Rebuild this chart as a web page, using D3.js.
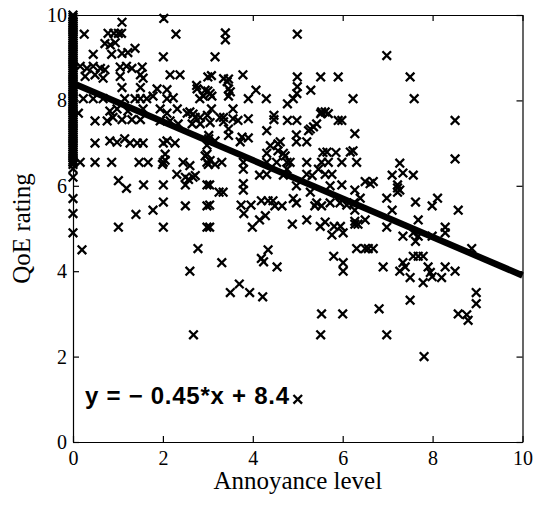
<!DOCTYPE html>
<html>
<head>
<meta charset="utf-8">
<script src="https://cdn.jsdelivr.net/npm/d3@7"></script>
<style>
  body { margin: 0; background: #fff; }
  .axis text { font-family: "Liberation Serif", "Times New Roman", serif; font-size: 20px; fill: #000; }
  .axis path, .axis line { stroke: #000; stroke-width: 1.2; }
</style>
</head>
<body>
<div id="chart"></div>
<script>
// Data ////////////////////////////////////////////////////////////////////
// Ratings given at annoyance level 0 (the dense column on the left axis)
const zeroLevelQoE = [
  10, 9.95, 9.9, 9.85, 9.8, 9.75, 9.7, 9.65, 9.6, 9.55, 9.5, 9.45, 9.4,
  9.35, 9.3, 9.25, 9.2, 9.15, 9.1, 9.05, 9.0, 8.95, 8.9, 8.85, 8.8, 8.75,
  8.7, 8.65, 8.6, 8.55, 8.5, 8.45, 8.4, 8.35, 8.3, 8.25, 8.2, 8.15, 8.1,
  8.05, 8.0, 7.95, 7.9, 7.85, 7.8, 7.75, 7.7, 7.65, 7.6, 7.55, 7.5, 7.45,
  7.4, 7.35, 7.3, 7.25, 7.2, 7.15, 7.1, 7.05, 7.0, 6.95, 6.9, 6.85, 6.8,
  6.75, 6.7, 6.65, 6.6, 6.55, 6.5, 6.4, 6.2, 5.7, 5.35, 4.9
];

// All other points: annoyance level and QoE rating, same order
const annoyance = [
  0.12, 0.2, 0.25, 0.16, 0.23, 0.16,
  1.09, 2.02, 0.78, 0.91, 1.01, 1.08, 2.29, 0.71, 0.83, 0.94, 1.38, 0.45, 0.86, 1.09, 1.22, 2.01, 3.16,
  0.31, 0.45, 0.61, 0.71, 1.05, 1.19, 1.31, 1.54, 0.27, 0.49, 0.67, 1.05, 1.5, 1.56, 2.16, 2.38, 3.0,
  1.09, 1.5, 1.87, 2.09, 2.76, 3.0, 0.45, 0.67, 1.15, 1.38, 1.5, 1.64, 1.78, 2.09, 2.23, 2.82, 3.09,
  0.82, 0.98, 1.22, 1.56, 1.94, 2.09, 2.32, 2.54, 2.67, 2.99,
  0.49, 0.76, 0.89, 1.09, 1.31, 1.5, 1.94, 2.16, 2.34, 2.65, 2.83, 3.05,
  0.49, 0.82, 0.98, 1.15, 1.27, 1.43, 1.56, 2.01, 2.09, 2.27, 2.98, 3.16, 2.05, 2.98,
  0.49, 0.86, 1.47, 1.67, 2.01, 2.05, 1.99, 2.45, 2.98, 3.01, 3.16,
  1.01, 1.19, 1.57, 2.01, 2.31, 2.5, 2.57, 2.67, 2.5, 2.98, 2.01, 1.78, 1.4, 2.5, 2.98,
  1.01, 2.01, 2.98, 2.78, 2.6, 3.31, 3.25,
  3.31, 3.79, 4.31, 4.53, 4.76, 5.2, 5.53, 5.68, 5.98, 6.31,
  4.31, 4.68, 5.56, 5.85, 3.79, 4.15, 4.31, 4.68, 5.2, 5.76,
  3.04, 3.34, 3.79, 3.79, 4.97, 5.28, 5.72, 5.98, 6.27,
  4.9, 4.97, 5.42, 5.72, 5.94, 6.09, 6.25,
  3.04, 3.74, 3.96, 3.8, 4.19, 4.34, 4.45, 4.15, 4.28, 3.04, 3.99,
  4.88, 5.2, 5.5, 5.61, 5.81, 5.95, 6.34, 5.76, 6.01,
  4.34, 4.19, 4.24, 4.54, 6.31, 5.8, 6.01, 6.01, 3.5, 3.7, 3.93, 4.22,
  6.17, 7.27, 8.5, 7.1, 7.34, 7.57, 6.5, 6.61, 6.68,
  7.22, 7.22, 7.22, 7.27, 6.98, 6.39, 7.62, 7.99, 8.11, 8.57, 7.1,
  6.27, 6.27, 6.27, 6.5, 6.98, 7.68, 8.28, 8.28,
  7.34, 7.57, 7.62, 7.68, 7.99, 6.5, 6.57, 6.68, 8.87,
  7.57, 7.68, 7.79, 6.9, 7.34, 7.39, 7.27, 7.9, 7.95, 8.28, 8.5,
  7.5, 7.79, 7.99, 8.2, 8.97, 8.97, 7.5, 6.81,
  6.98, 7.81, 8.57, 8.76, 8.79, 5.53, 6.0, 5.51, 5.0, 2.68,
  6.98, 7.5, 6.23, 7.59, 8.5, 6.27, 6.23,
  3.39, 3.39, 4.99, 3.08, 3.46, 3.78, 4.99, 5.51, 5.9,
  3.46, 3.05, 2.9, 3.46, 4.07, 3.9, 4.3, 4.99, 4.98, 4.9, 4.77, 5.29,
  3.08, 3.27, 3.35, 3.56, 3.56, 3.9, 2.83, 4.47, 4.47, 4.77, 4.98,
  5.51, 5.68, 5.9, 5.98, 3.46, 3.46, 3.72, 3.76, 3.9, 4.31, 4.39, 4.56, 4.61,
  4.97, 4.97, 5.2, 5.35, 5.24, 3.02,
  5.42, 5.53, 5.61, 5.28, 2.6, 2.72, 4.49, 4.65, 5.38, 5.53,
  2.94, 3.05, 3.02, 4.56, 4.72, 4.83, 4.76, 5.46, 5.61, 5.32, 5.65,
  2.6, 2.72, 3.35, 3.67, 2.75, 2.94, 3.35, 3.43, 3.5
];
const qoe = [
  7.7, 4.5, 9.55, 8.8, 8.04, 6.55,
  9.83, 9.92, 9.57, 9.57, 9.57, 9.57, 9.55, 9.33, 9.3, 9.35, 9.22, 9.08, 9.08, 9.1, 9.12, 9.02, 9.02,
  8.75, 8.8, 8.75, 8.72, 8.78, 8.8, 8.75, 8.78, 8.56, 8.6, 8.52, 8.56, 8.6, 8.52, 8.6, 8.6, 8.55,
  8.3, 8.3, 8.27, 8.25, 8.27, 8.22, 8.04, 8.04, 8.04, 8.04, 8.04, 8.04, 8.1, 8.04, 8.06, 8.04, 8.1,
  7.75, 7.8, 7.75, 7.8, 7.8, 7.7, 7.8, 7.7, 7.68, 7.65,
  7.52, 7.52, 7.6, 7.55, 7.55, 7.55, 7.52, 7.52, 7.45, 7.45, 7.45, 7.48,
  7.0, 7.05, 7.02, 7.1, 7.0, 7.0, 7.0, 7.0, 7.05, 7.0, 6.95, 7.05, 6.74, 6.74,
  6.55, 6.55, 6.55, 6.55, 6.55, 6.6, 6.5, 6.55, 6.55, 6.5, 6.5,
  6.12, 5.94, 6.02, 6.02, 6.27, 6.2, 6.15, 6.2, 6.02, 6.02, 5.62, 5.43, 5.33, 5.53, 5.53,
  5.03, 5.03, 5.03, 4.53, 4.0, 4.2, 5.85,
  6.55, 6.55, 6.55, 6.55, 6.55, 6.55, 6.55, 6.55, 6.55, 6.55,
  6.76, 6.76, 6.78, 6.78, 6.39, 6.25, 6.27, 6.25, 6.27, 6.27,
  6.02, 5.85, 6.05, 5.9, 6.0, 5.85, 6.0, 6.02, 5.9,
  5.7, 5.6, 5.6, 5.6, 5.6, 5.55, 5.6,
  5.55, 5.55, 5.55, 5.35, 5.65, 5.65, 5.65, 5.2, 5.3, 5.03, 5.03,
  5.1, 5.2, 5.05, 5.15, 5.05, 5.05, 5.1, 4.85, 4.9,
  4.5, 4.3, 4.22, 4.1, 4.53, 4.35, 4.2, 4.0, 3.5, 3.7, 3.5, 3.4,
  6.79, 6.53, 6.63, 6.25, 6.3, 6.25, 6.1, 6.05, 6.1,
  5.85, 5.95, 6.02, 5.9, 5.71, 5.71, 5.62, 5.53, 5.71, 5.43, 5.43,
  5.43, 5.17, 5.1, 5.2, 5.03, 5.2, 5.03, 4.9,
  4.82, 4.9, 4.7, 4.82, 4.82, 4.53, 4.53, 4.53, 4.53,
  4.35, 4.35, 4.35, 4.1, 4.2, 4.1, 4.0, 4.1, 3.97, 4.1, 4.0,
  3.85, 3.73, 3.87, 3.85, 3.5, 3.24, 3.32, 3.12,
  2.51, 2.0, 3.0, 2.98, 2.85, 3.0, 3.0, 2.51, 1.0, 2.51,
  9.05, 8.55, 8.04, 8.04, 7.53, 7.22, 6.82,
  9.58, 9.42, 9.55, 8.58, 8.5, 8.6, 8.55, 8.55, 8.55,
  8.27, 8.16, 8.1, 8.1, 8.24, 8.04, 8.04, 8.32, 8.16, 8.04, 7.92, 8.24,
  7.8, 7.6, 7.6, 7.8, 7.57, 7.57, 7.6, 7.65, 7.55, 7.53, 7.53,
  7.69, 7.69, 7.53, 7.53, 7.33, 7.18, 7.03, 7.14, 7.12, 7.29, 6.94, 6.98, 7.03,
  7.19, 7.03, 7.03, 7.38, 7.29, 7.18,
  7.45, 7.73, 7.73, 7.33, 6.47, 6.24, 5.53, 5.53, 5.53, 5.53,
  6.7, 6.59, 7.1, 6.82, 6.7, 6.55, 6.39, 6.39, 6.27, 6.24, 6.79,
  7.73, 7.6, 7.5, 7.53, 8.35, 8.24, 8.51, 8.44, 8.2
];

// Least squares fit printed on the chart
const fitSlope = -0.45;
const fitIntercept = 8.4;

const xTicks = [0, 2, 4, 6, 8, 10];
const yTicks = [0, 2, 4, 6, 8, 10];

// Chart ///////////////////////////////////////////////////////////////////
const width = 533, height = 505;
const margin = {top: 15, right: 10.5, bottom: 63, left: 73};
const innerW = width - margin.left - margin.right,
      innerH = height - margin.top - margin.bottom;

const points = zeroLevelQoE.map(d => ({x: 0, y: d}))
  .concat(annoyance.map((d, i) => ({x: d, y: qoe[i]})));

const x = d3.scaleLinear().domain([0, 10]).range([0, innerW]);
const y = d3.scaleLinear().domain([0, 10]).range([innerH, 0]);

const svg = d3.select('#chart').append('svg')
  .attr('width', width)
  .attr('height', height);

const g = svg.append('g')
  .attr('transform', `translate(${margin.left},${margin.top})`);

// Axes, MATLAB style: ticks inside on all four sides
g.append('g')
  .attr('class', 'axis')
  .attr('transform', `translate(0,${innerH})`)
  .call(d3.axisBottom(x).tickValues(xTicks).tickSizeInner(-6).tickSizeOuter(0).tickPadding(9));
g.append('g')
  .attr('class', 'axis')
  .call(d3.axisLeft(y).tickValues(yTicks).tickSizeInner(-6).tickSizeOuter(0).tickPadding(6));
g.append('g')
  .attr('class', 'axis')
  .call(d3.axisTop(x).tickValues(xTicks).tickSizeInner(-6).tickSizeOuter(0).tickFormat(''));
g.append('g')
  .attr('class', 'axis')
  .attr('transform', `translate(${innerW},0)`)
  .call(d3.axisRight(y).tickValues(yTicks).tickSizeInner(-6).tickSizeOuter(0).tickFormat(''));

// Scatter of x markers
g.append('g')
  .selectAll('path')
  .data(points)
  .enter().append('path')
  .attr('transform', d => `translate(${x(d.x)},${y(d.y)})`)
  .attr('d', 'M-4.3,-4.3L4.3,4.3M-4.3,4.3L4.3,-4.3')
  .attr('stroke', '#000')
  .attr('stroke-width', 2.3)
  .attr('fill', 'none');

// Regression line
const fitLine = d3.line()
  .x(d => x(d))
  .y(d => y(fitIntercept + fitSlope * d));
g.append('path')
  .datum([0, 10])
  .attr('d', fitLine)
  .attr('stroke', '#000')
  .attr('stroke-width', 6.5)
  .attr('fill', 'none');

// Equation label
svg.append('text')
  .attr('x', 85)
  .attr('y', 404)
  .attr('textLength', 204)
  .attr('lengthAdjust', 'spacing')
  .style('font-family', '"Liberation Sans", Arial, sans-serif')
  .style('font-weight', 'bold')
  .style('font-size', '24px')
  .text(`y = \u2212 ${Math.abs(fitSlope)}*x + ${fitIntercept}`);

// Axis titles
svg.append('text')
  .attr('x', margin.left + innerW / 2)
  .attr('y', 489)
  .attr('text-anchor', 'middle')
  .style('font-family', '"Liberation Serif", "Times New Roman", serif')
  .style('font-size', '25px')
  .text('Annoyance level');

svg.append('text')
  .attr('transform', `translate(30,${margin.top + innerH / 2}) rotate(-90)`)
  .attr('text-anchor', 'middle')
  .style('font-family', '"Liberation Serif", "Times New Roman", serif')
  .style('font-size', '25px')
  .text('QoE rating');
</script>
</body>
</html>
